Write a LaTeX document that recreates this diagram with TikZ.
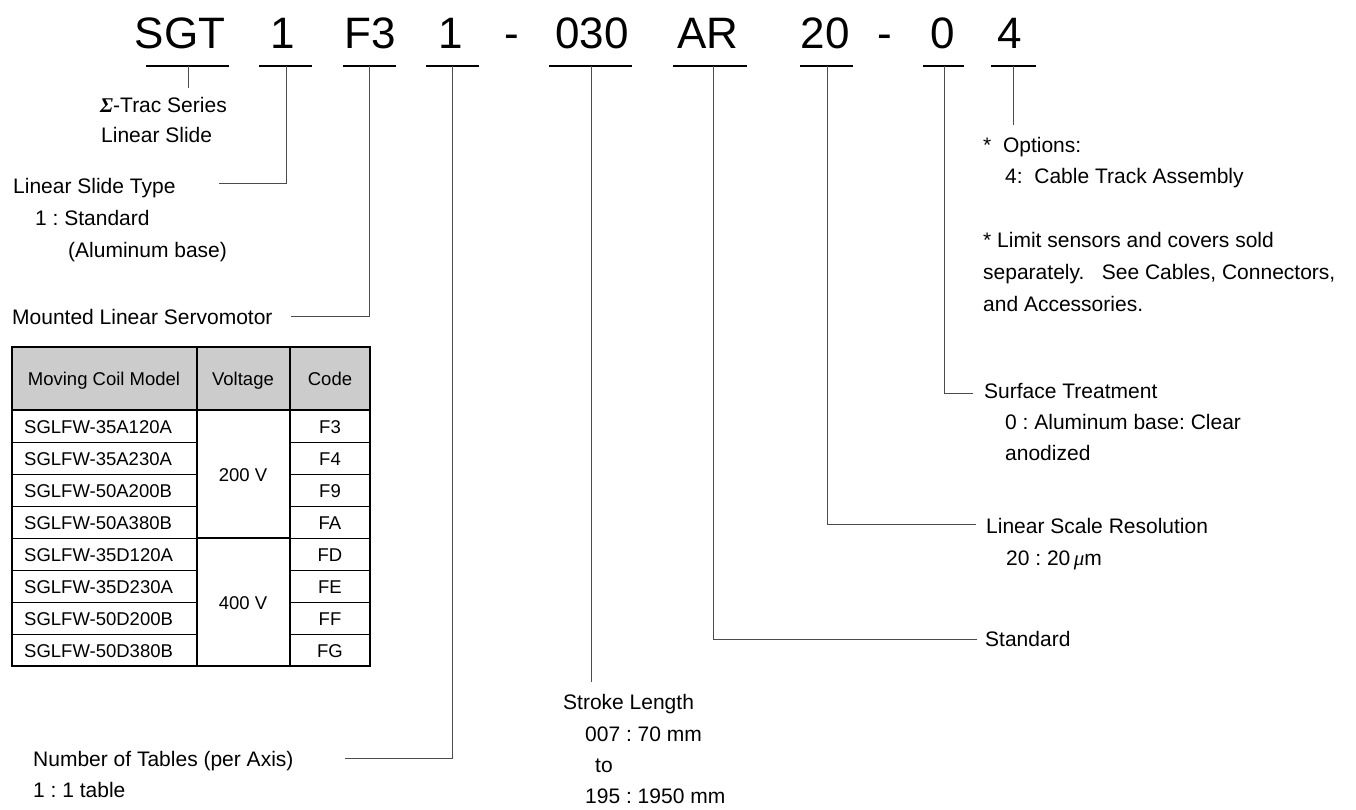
\documentclass[tikz,border=0pt]{standalone}
\usepackage{fontspec}
\setmainfont{Liberation Sans}
\newfontfamily\grk{Liberation Serif}
\frenchspacing
\tikzset{
  >=latex,
}
\tikzstyle{code}=[font=\fontsize{44}{48}\selectfont,anchor=base,inner sep=0pt]
\tikzstyle{lbl}=[font=\fontsize{21}{25}\selectfont,anchor=base west,inner sep=0pt]
\tikzstyle{cell}=[font=\fontsize{18.5}{22}\selectfont,anchor=base,inner sep=0pt]
\tikzstyle{uline}=[line width=1.2pt]
\tikzstyle{lead}=[line width=1pt,black!70]

\begin{document}
\begin{tikzpicture}[x=1pt,y=-1pt]
        \useasboundingbox (0,0) rectangle (1356,809);
        % model code
        \node[code] (sgt) at (180,48) {SGT};
        \node[code] (type) at (283,48) {1};
        \node[code] (motor) at (370,48) {F3};
        \node[code] (tabs) at (451,48) {1};
        \node[code] (dash1) at (512,48) {-};
        \node[code] (stroke) at (592,48) {030};
        \node[code] (std) at (708,48) {AR};
        \node[code] (res) at (825,48) {20};
        \node[code] (dash2) at (885,48) {-};
        \node[code] (surf) at (943,48) {0};
        \node[code] (opt) at (1010,48) {4};
        \draw[uline] (146,66)--(229,66);
        \draw[uline] (259,66)--(312,66);
        \draw[uline] (343,66)--(396,66);
        \draw[uline] (426,66)--(479,66);
        \draw[uline] (549,66)--(632,66);
        \draw[uline] (673,66)--(747,66);
        \draw[uline] (800,66)--(853,66);
        \draw[uline] (923,66)--(964,66);
        \draw[uline] (991,66)--(1036,66);

        % labels
        \node[lbl] (sgt-l) at (100,112) {{\grk\bfseries\itshape Σ}-Trac Series};
        \node[lbl] (sgt-l2) at (101,142) {Linear Slide};
        \node[lbl] (type-l) at (13,193) {Linear Slide Type};
        \node[lbl] at (35,225) {1 : Standard};
        \node[lbl] at (68,257) {(Aluminum base)};
        \node[lbl] (motor-l) at (12,324) {Mounted Linear Servomotor};
        \node[lbl] (tabs-l) at (33,766) {Number of Tables (per Axis)};
        \node[lbl] at (33,797) {1 : 1 table};
        \node[lbl] (stroke-l) at (563,709) {Stroke Length};
        \node[lbl] at (585,741) {007 : 70 mm};
        \node[lbl] at (595,772) {to};
        \node[lbl] at (585,803) {195 : 1950 mm};
        \node[lbl] (std-l) at (985,646) {Standard};
        \node[lbl] (res-l) at (986,533) {Linear Scale Resolution};
        \node[lbl] at (1006,565) {20 : 20\,{\grk\itshape μ}m};
        \node[lbl] (surf-l) at (984,398) {Surface Treatment};
        \node[lbl] at (1005,429) {0 : Aluminum base: Clear};
        \node[lbl] at (1005,460) {anodized};
        \node[lbl] (opt-l) at (983,152) {*\ \ Options:};
        \node[lbl] at (1005,183) {4:\ \ Cable Track Assembly};
        \node[lbl] at (983,247) {* Limit sensors and covers sold};
        \node[lbl] at (983,279) {separately.\ \ \ See Cables, Connectors,};
        \node[lbl] at (983,311) {and Accessories.};

        % leaders
        \coordinate (u-sgt) at (188,66);
        \coordinate (e-sgt) at (188,88);
        \coordinate (u-type) at (286,66);
        \coordinate (e-type) at (219,183);
        \coordinate (u-motor) at (369,66);
        \coordinate (e-motor) at (291,316);
        \coordinate (u-tabs) at (452,66);
        \coordinate (e-tabs) at (345,758);
        \coordinate (u-stroke) at (591,66);
        \coordinate (e-stroke) at (591,682);
        \coordinate (u-std) at (713,66);
        \coordinate (e-std) at (977,639);
        \coordinate (u-res) at (827,66);
        \coordinate (e-res) at (976,524);
        \coordinate (u-surf) at (944,66);
        \coordinate (e-surf) at (973,393);
        \coordinate (u-opt) at (1013,66);
        \coordinate (e-opt) at (1013,125);
        \draw[lead] (u-sgt)--(e-sgt);
        \draw[lead] (u-type) |- (e-type);
        \draw[lead] (u-motor) |- (e-motor);
        \draw[lead] (u-tabs) |- (e-tabs);
        \draw[lead] (u-stroke)--(e-stroke);
        \draw[lead] (u-std) |- (e-std);
        \draw[lead] (u-res) |- (e-res);
        \draw[lead] (u-surf) |- (e-surf);
        \draw[lead] (u-opt)--(e-opt);

        % motor table
        \fill[black!20] (12,347) rectangle (370,410);
        \draw[line width=.8pt] (12,442)--(197,442) (290,442)--(370,442);
        \draw[line width=.8pt] (12,474)--(197,474) (290,474)--(370,474);
        \draw[line width=.8pt] (12,506)--(197,506) (290,506)--(370,506);
        \draw[line width=.8pt] (12,538)--(197,538) (290,538)--(370,538);
        \draw[line width=.8pt] (12,570)--(197,570) (290,570)--(370,570);
        \draw[line width=.8pt] (12,602)--(197,602) (290,602)--(370,602);
        \draw[line width=.8pt] (12,634)--(197,634) (290,634)--(370,634);
        \draw[line width=1.5pt] (197,538)--(290,538);
        \draw[line width=1.5pt] (197,347)--(197,666);
        \draw[line width=1.5pt] (290,347)--(290,666);
        \draw[line width=2pt] (12,410)--(370,410);
        \draw[line width=2pt] (12,347) rectangle (370,666);
        \node[cell] (h-model) at (104,385) {Moving Coil Model};
        \node[cell] (h-volt) at (243,385) {Voltage};
        \node[cell] (h-code) at (330,385) {Code};
        \node[cell,anchor=base west] (m1) at (24,433) {SGLFW-35A120A};
        \node[cell,anchor=base west] (m2) at (24,465) {SGLFW-35A230A};
        \node[cell,anchor=base west] (m3) at (24,497) {SGLFW-50A200B};
        \node[cell,anchor=base west] (m4) at (24,529) {SGLFW-50A380B};
        \node[cell,anchor=base west] (m5) at (24,561) {SGLFW-35D120A};
        \node[cell,anchor=base west] (m6) at (24,593) {SGLFW-35D230A};
        \node[cell,anchor=base west] (m7) at (24,625) {SGLFW-50D200B};
        \node[cell,anchor=base west] (m8) at (24,657) {SGLFW-50D380B};
        \node[cell] (v200) at (243,481) {200 V};
        \node[cell] (v400) at (243,609) {400 V};
        \node[cell] (k1) at (330,433) {F3};
        \node[cell] (k2) at (330,465) {F4};
        \node[cell] (k3) at (330,497) {F9};
        \node[cell] (k4) at (330,529) {FA};
        \node[cell] (k5) at (330,561) {FD};
        \node[cell] (k6) at (330,593) {FE};
        \node[cell] (k7) at (330,625) {FF};
        \node[cell] (k8) at (330,657) {FG};
      \end{tikzpicture}
\end{document}
